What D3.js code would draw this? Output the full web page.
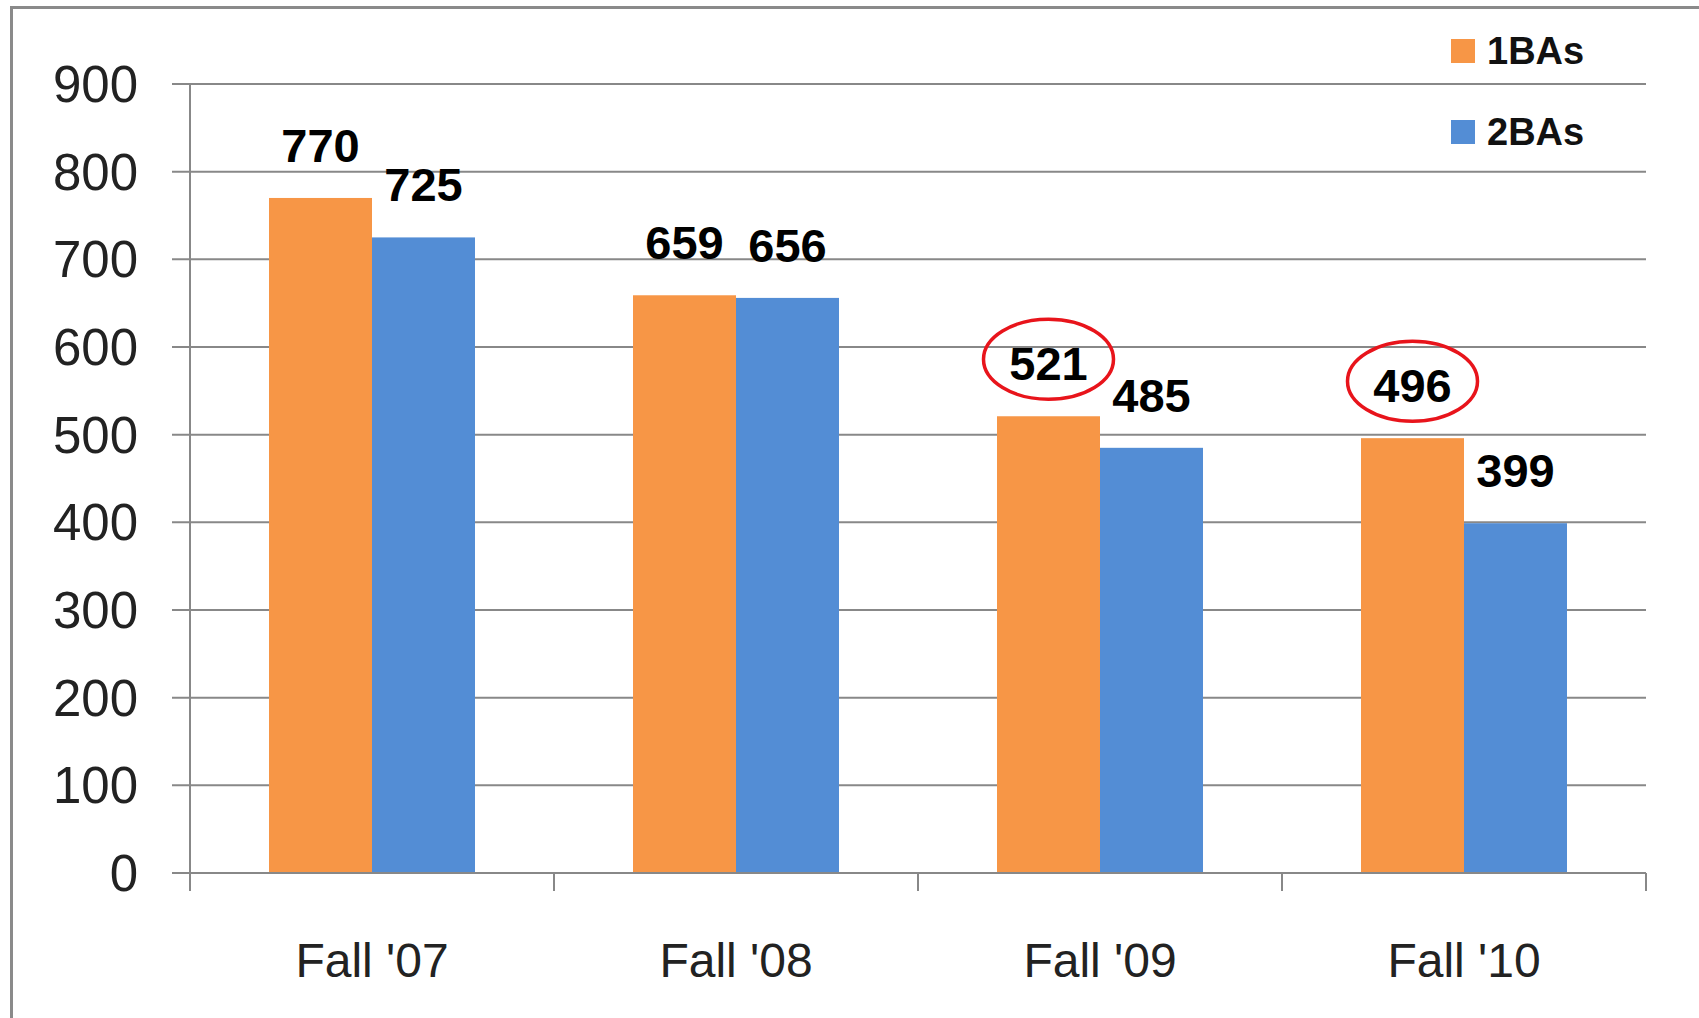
<!DOCTYPE html>
<html>
<head>
<meta charset="utf-8">
<script src="https://cdn.jsdelivr.net/npm/d3@7"></script>
<style>
  html, body { margin: 0; padding: 0; background: #fff; }
  svg { display: block; }
</style>
</head>
<body>
<div id="chart"></div>
<script>
var categories = ["Fall '07", "Fall '08", "Fall '09", "Fall '10"];
var series = ["1BAs", "2BAs"];
var oneBAs = [770, 659, 521, 496];
var twoBAs = [725, 656, 485, 399];
var yTicks = [0, 100, 200, 300, 400, 500, 600, 700, 800, 900];
// labels circled in red on the original
var circled = [{cat: "Fall '09", s: "1BAs"}, {cat: "Fall '10", s: "1BAs"}];

var colors = {"1BAs": "#F79646", "2BAs": "#538DD5"};

var w = 1699, h = 1018;
var plotLeft = 190, plotRight = 1646, plotTop = 84, plotBottom = 873;

var rows = [];
categories.forEach((c, i) => {
  rows.push({cat: c, s: "1BAs", v: oneBAs[i]});
  rows.push({cat: c, s: "2BAs", v: twoBAs[i]});
});

var svg = d3.select("#chart")
  .append("svg")
  .attr("width", w)
  .attr("height", h)
  .style("font-family", "'Liberation Sans', Arial, sans-serif");

// outer frame (cropped on the right/bottom in the source)
svg.append("rect")
  .attr("x", 11.5).attr("y", 7.5)
  .attr("width", w).attr("height", h)
  .attr("fill", "none")
  .attr("stroke", "#8a8a8a")
  .attr("stroke-width", 3);

var y = d3.scaleLinear().domain([0, 900]).range([plotBottom, plotTop]);
var x0 = d3.scaleBand().domain(categories).range([plotLeft, plotRight]).padding(0);
var x1 = d3.scaleBand().domain(series).range([0, x0.bandwidth()])
  .paddingInner(0).paddingOuter(0.767);

// gridlines + y labels
svg.append("g")
  .selectAll("line")
  .data(yTicks)
  .enter().append("line")
  .attr("x1", plotLeft - 18).attr("x2", plotRight)
  .attr("y1", d => y(d)).attr("y2", d => y(d))
  .attr("stroke", "#888")
  .attr("stroke-width", 2);

svg.append("g")
  .selectAll("text")
  .data(yTicks)
  .enter().append("text")
  .attr("x", 138)
  .attr("y", d => y(d) + 18)
  .attr("text-anchor", "end")
  .attr("font-size", 51)
  .attr("fill", "#222")
  .text(d => d);

// bars
svg.append("g")
  .selectAll("rect")
  .data(rows)
  .enter().append("rect")
  .attr("x", d => x0(d.cat) + x1(d.s))
  .attr("y", d => y(d.v))
  .attr("width", x1.bandwidth())
  .attr("height", d => y(0) - y(d.v))
  .attr("fill", d => colors[d.s]);

// axes lines
svg.append("line")
  .attr("x1", plotLeft).attr("x2", plotLeft)
  .attr("y1", plotTop).attr("y2", plotBottom)
  .attr("stroke", "#888").attr("stroke-width", 2);

svg.append("line")
  .attr("x1", plotLeft - 18).attr("x2", plotRight)
  .attr("y1", plotBottom).attr("y2", plotBottom)
  .attr("stroke", "#888").attr("stroke-width", 2);

var boundaries = categories.map(c => x0(c)).concat([plotRight]);
svg.append("g")
  .selectAll("line")
  .data(boundaries)
  .enter().append("line")
  .attr("x1", d => d).attr("x2", d => d)
  .attr("y1", plotBottom).attr("y2", plotBottom + 18)
  .attr("stroke", "#888").attr("stroke-width", 2);

// category labels
svg.append("g")
  .selectAll("text")
  .data(categories)
  .enter().append("text")
  .attr("x", d => x0(d) + x0.bandwidth() / 2)
  .attr("y", 977)
  .attr("text-anchor", "middle")
  .attr("font-size", 48)
  .attr("fill", "#222")
  .text(d => d);

// value labels
svg.append("g")
  .selectAll("text")
  .data(rows)
  .enter().append("text")
  .attr("x", d => x0(d.cat) + x1(d.s) + x1.bandwidth() / 2)
  .attr("y", d => y(d.v) - 36)
  .attr("text-anchor", "middle")
  .attr("font-size", 47)
  .attr("font-weight", "bold")
  .attr("fill", "#000")
  .text(d => d.v);

// red ellipses
svg.append("g")
  .selectAll("ellipse")
  .data(circled.map(c => rows.find(r => r.cat === c.cat && r.s === c.s)))
  .enter().append("ellipse")
  .attr("cx", d => x0(d.cat) + x1(d.s) + x1.bandwidth() / 2)
  .attr("cy", d => y(d.v) - 57)
  .attr("rx", 65)
  .attr("ry", 40)
  .attr("fill", "none")
  .attr("stroke", "#e8141b")
  .attr("stroke-width", 3.5);

// legend
var legend = svg.append("g")
  .selectAll("g")
  .data(series)
  .enter().append("g")
  .attr("transform", (d, i) => "translate(1451," + (39 + i * 81) + ")");

legend.append("rect")
  .attr("width", 24).attr("height", 24)
  .attr("fill", d => colors[d]);

legend.append("text")
  .attr("x", 36)
  .attr("y", 25)
  .attr("font-size", 38)
  .attr("font-weight", "bold")
  .attr("fill", "#111")
  .text(d => d);
</script>
</body>
</html>
